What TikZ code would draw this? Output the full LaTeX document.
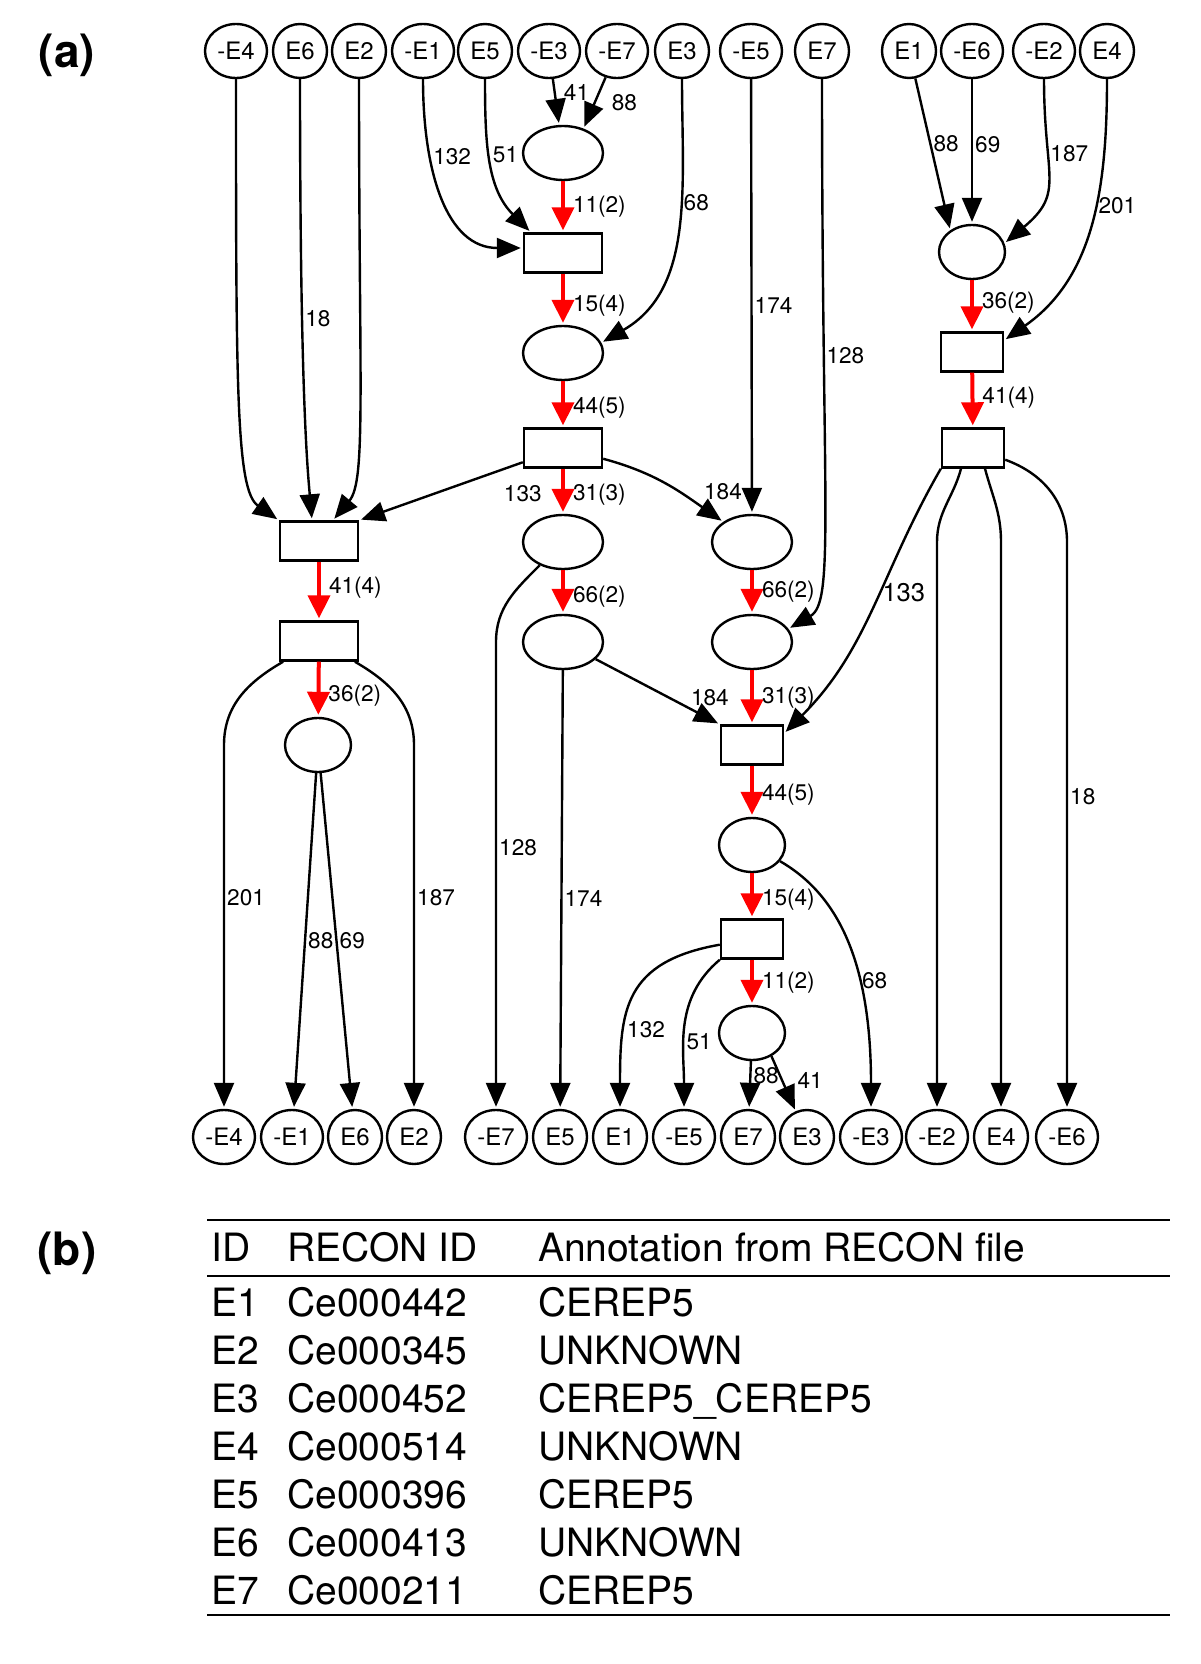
\documentclass[tikz,border=0pt]{standalone}
\usepackage{fontspec}
\setmainfont{TeX Gyre Heros}
\usetikzlibrary{arrows.meta,shapes.geometric}

\begin{document}
\begin{tikzpicture}[x=0.5pt,y=-0.5pt,>={Triangle[length=12pt,width=10pt]},shorten >=1pt,
                    line width=1.2pt,node distance=50pt,
                    ev node/.style={ellipse,draw,inner sep=0pt,minimum width=27pt,minimum height=27pt,
                                    font=\fontsize{12}{14}\selectfont},
                    nev node/.style={ev node,minimum width=31pt},
                    place node/.style={ellipse,draw,minimum width=40pt,minimum height=27pt},
                    small place/.style={place node,minimum width=33pt},
                    trans node/.style={rectangle,draw,minimum width=39pt,minimum height=19.5pt},
                    small trans/.style={trans node,minimum width=31pt},
                    flow/.style={-{Triangle[length=11.5pt,width=11pt,red]},draw=red,line width=2pt},
                    lbl/.style={font=\fontsize{11.3}{13}\selectfont,inner sep=1pt},
                    cell/.style={anchor=base west,inner sep=0pt,font=\fontsize{19.5}{23}\selectfont}]
  \useasboundingbox (0,0) rectangle (1200,1664);

  % (a) top row
  \node[nev node] (tnE4) at (236,51) {-E4};
  \node[ev node]  (tE6)  at (300,51) {E6};
  \node[ev node]  (tE2)  at (359,51) {E2};
  \node[nev node] (tnE1) at (423,51) {-E1};
  \node[ev node]  (tE5)  at (485,51) {E5};
  \node[nev node] (tnE3) at (549,51) {-E3};
  \node[nev node] (tnE7) at (617,51) {-E7};
  \node[ev node]  (tE3)  at (682,51) {E3};
  \node[nev node] (tnE5) at (751,51) {-E5};
  \node[ev node]  (tE7)  at (822,51) {E7};
  \node[ev node]  (tE1)  at (909,51) {E1};
  \node[nev node] (tnE6) at (972,51) {-E6};
  \node[nev node] (tnE2) at (1044,51) {-E2};
  \node[ev node]  (tE4)  at (1107,51) {E4};

  % bottom row
  \node[nev node] (bnE4) at (224,1137) {-E4};
  \node[nev node] (bnE1) at (292,1137) {-E1};
  \node[ev node]  (bE6)  at (355,1137) {E6};
  \node[ev node]  (bE2)  at (414,1137) {E2};
  \node[nev node] (bnE7) at (496,1137) {-E7};
  \node[ev node]  (bE5)  at (560,1137) {E5};
  \node[ev node]  (bE1)  at (620,1137) {E1};
  \node[nev node] (bnE5) at (684,1137) {-E5};
  \node[ev node]  (bE7)  at (748,1137) {E7};
  \node[ev node]  (bE3)  at (807,1137) {E3};
  \node[nev node] (bnE3) at (871,1137) {-E3};
  \node[nev node] (bnE2) at (937,1137) {-E2};
  \node[ev node]  (bE4)  at (1001,1137) {E4};
  \node[nev node] (bnE6) at (1067,1137) {-E6};

  % inner places and transitions
  \node[place node] (P1) at (563,153) {};
  \node[trans node] (T1) [below of=P1] {};
  \node[place node] (P2) [below of=T1] {};
  \node[trans node] (T2) at (563,448) {};
  \node[place node] (P3) at (563,542) {};
  \node[place node] (P4) [below of=P3] {};
  \node[trans node] (B1) at (319,541) {};
  \node[trans node] (B2) [below of=B1] {};
  \node[small place] (PL) at (318,745) {};
  \node[small place] (PR) at (972,252) {};
  \node[small trans] (TR1) [below of=PR] {};
  \node[small trans] (TR2) at (973,448) {};
  \node[place node] (P5) at (752,542) {};
  \node[place node] (P6) [below of=P5] {};
  \node[small trans] (T4) at (752,745) {};
  \node[small place] (P7) [below of=T4] {};
  \node[small trans] (T5) at (752,939) {};
  \node[small place] (P8) at (752,1033) {};

  % red main flow
  \path[flow,every node/.style={lbl,right=3pt}]
    (P1)  edge node[pos=0.5]  {11(2)} (T1)
    (T1)  edge node[pos=0.62] {15(4)} (P2)
    (P2)  edge node[pos=0.57] {44(5)} (T2)
    (T2)  edge node[pos=0.57] {31(3)} (P3)
    (P3)  edge node[pos=0.6]  {66(2)} (P4)
    (B1)  edge node[pos=0.45] {41(4)} (B2)
    (B2)  edge node[pos=0.62] {36(2)} (PL)
    (PR)  edge node[pos=0.43] {36(2)} (TR1)
    (TR1) edge node[pos=0.46] {41(4)} (TR2)
    (P5)  edge node[pos=0.5]  {66(2)} (P6)
    (P6)  edge node[pos=0.5]  {31(3)} (T4)
    (T4)  edge node[pos=0.57] {44(5)} (P7)
    (P7)  edge node[pos=0.58] {15(4)} (T5)
    (T5)  edge node[pos=0.5]  {11(2)} (P8);

  % inputs
  \path[->,every node/.style={lbl,right}]
    (tnE4) edge[out=-90,in=145,out looseness=1.8,in looseness=0.3] (B1.north west)
    (tE6)  edge[out=-90,in=95,out looseness=1.8,in looseness=0.3] node[pos=0.33] {18} ([xshift=-3.5pt]B1.north)
    (tE2)  edge[out=-90,in=50,out looseness=1.8,in looseness=0.3] ([xshift=7pt]B1.north)
    (tnE1) edge[out=-90,in=180,out looseness=1.2] node[pos=0.3] {132} ([yshift=2.5pt]T1.west)
    (tE5)  edge[out=-90,in=135] node[pos=0.45] {51} ([xshift=4pt]T1.north west)
    (tnE3) edge node[pos=0.3,right=3pt] {41} (P1)
    (tnE7) edge node[pos=0.5,right=7pt] {88} (P1.50)
    (tE3)  edge[out=-90,in=30] node[pos=0.4] {68} (P2.15)
    (tnE5) edge node[pos=0.52] {174} (P5)
    (tE7)  edge[out=-90,in=30,out looseness=2,in looseness=0.25] node[pos=0.265] {128} (P6.20)
    (tE1)  edge node[pos=0.43] {88} (PR.135)
    (tnE6) edge node[pos=0.45] {69} (PR)
    (tnE2) edge[out=-90,in=40,out looseness=1.5,in looseness=1.2] node[pos=0.33] {187} (PR.15)
    (tE4)  edge[out=-90,in=35] node[pos=0.42] {201} (TR1.20);

  % between inner nodes and to outputs
  \path[->,every node/.style={lbl,right}]
    (T2) edge node[pos=0,below=10pt] {133} (B1.north east)
    (T2.-15) edge[out=-15,in=145] node[pos=0.8,above right=1pt] {184} (P5.145)
    (P4) edge node[pos=0.92,above=5pt] {184} (T4.north west)
    (TR2.south west) edge[out=-120,in=45] node[pos=0.44,font=\fontsize{12.8}{15}\selectfont] {133} (T4.20)
    (PL) edge node[pos=0.5] {88} (bnE1)
    (PL) edge node[pos=0.5] {69} (bE6)
    (P4) edge node[pos=0.52] {174} (bE5)
    (P7) edge[out=-30,in=90,out looseness=0.6,in looseness=1.5] node[pos=0.66] {68} (bnE3)
    (T5) edge[out=190,in=90,out looseness=1.3,in looseness=1.3] node[pos=0.68] {132} (bE1)
    (T5.south west) edge[out=-140,in=90] node[pos=0.6] {51} (bnE5)
    (P8) edge node[pos=0.3] {88} (bE7)
    (P8.-50) edge node[pos=0.45,right=6pt] {41} (bE3);
  \draw[->] (P3) to[out=-135,in=90] (bnE7 |- P4) -- node[lbl,right,pos=0.44] {128} (bnE7);
  \draw[->] (B2.-150) to[out=-150,in=90] (bnE4 |- PL) -- node[lbl,right,pos=0.42] {201} (bnE4);
  \draw[->] (B2.-30) to[out=-30,in=90] (bE2 |- PL) -- node[lbl,right,pos=0.42] {187} (bE2);
  \draw[->] ([xshift=-6pt]TR2.south) to[out=-105,in=90] (bnE2 |- P3) -- (bnE2);
  \draw[->] ([xshift=6pt]TR2.south) to[out=-75,in=90] (bE4 |- P3) -- (bE4);
  \draw[->] (TR2.-20) to[out=-20,in=90] (bnE6 |- P3) -- node[lbl,right,pos=0.45] {18} (bnE6);

  % panel letters
  \node[font=\fontsize{23}{27}\selectfont\bfseries] (lbla) at (67,55) {(a)};
  \node[font=\fontsize{23}{27}\selectfont\bfseries] (lblb) at (67,1253) {(b)};

  % (b) table
  \draw[line width=1pt] (207,1220) -- (1172,1220);
  \draw[line width=1pt] (207,1276) -- (1172,1276);
  \draw[line width=1pt] (207,1615) -- (1172,1615);
  \node[cell] (h1) at (210,1261) {ID};
  \node[cell] (h2) at (286,1261) {RECON ID};
  \node[cell] (h3) at (537,1261) {Annotation from RECON file};
  \node[cell] (r1a) at (210,1316) {E1}; \node[cell] (r1b) at (286,1316) {Ce000442}; \node[cell] (r1c) at (537,1316) {CEREP5};
  \node[cell] (r2a) at (210,1364) {E2}; \node[cell] (r2b) at (286,1364) {Ce000345}; \node[cell] (r2c) at (537,1364) {UNKNOWN};
  \node[cell] (r3a) at (210,1412) {E3}; \node[cell] (r3b) at (286,1412) {Ce000452}; \node[cell] (r3c) at (537,1412) {CEREP5\_CEREP5};
  \node[cell] (r4a) at (210,1460) {E4}; \node[cell] (r4b) at (286,1460) {Ce000514}; \node[cell] (r4c) at (537,1460) {UNKNOWN};
  \node[cell] (r5a) at (210,1508) {E5}; \node[cell] (r5b) at (286,1508) {Ce000396}; \node[cell] (r5c) at (537,1508) {CEREP5};
  \node[cell] (r6a) at (210,1556) {E6}; \node[cell] (r6b) at (286,1556) {Ce000413}; \node[cell] (r6c) at (537,1556) {UNKNOWN};
  \node[cell] (r7a) at (210,1604) {E7}; \node[cell] (r7b) at (286,1604) {Ce000211}; \node[cell] (r7c) at (537,1604) {CEREP5};
\end{tikzpicture}
\end{document}
